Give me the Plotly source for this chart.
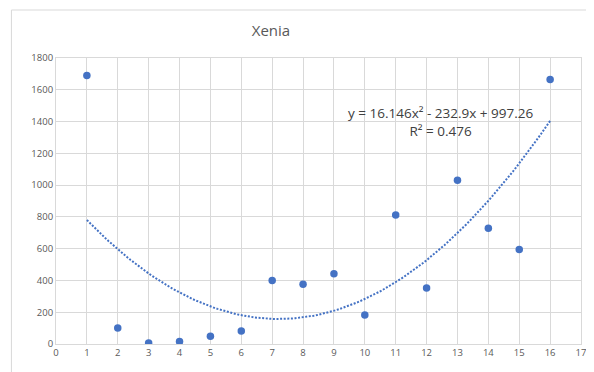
import plotly.graph_objects as go

x_vals = [1, 2, 3, 4, 5, 6, 7, 8, 9, 10, 11, 12, 13, 14, 15, 16]
y_vals = [1690, 100, 6, 15, 48, 82, 400, 376, 442, 182, 812, 352, 1030, 728, 594, 1665]
trend_coef = [16.146, -232.9, 997.26]  # a, b, c from the trendline label
r_squared = 0.476
title_text = "Xenia"

blue = "#4472C4"
fig = go.Figure()

n = 150
tx = [x_vals[0] + (x_vals[-1] - x_vals[0]) * i / (n - 1) for i in range(n)]
ty = [trend_coef[0] * t * t + trend_coef[1] * t + trend_coef[2] for t in tx]
fig.add_trace(go.Scatter(x=tx, y=ty, mode="lines",
                         line=dict(color=blue, width=2, dash="2px,1.6px"),
                         hoverinfo="skip", showlegend=False))
fig.add_trace(go.Scatter(x=x_vals, y=y_vals, mode="markers",
                         marker=dict(color=blue, size=7.5), showlegend=False))

eq = f"y = {trend_coef[0]}x² - {abs(trend_coef[1])}x + {trend_coef[2]}<br>R² = {r_squared}"
fig.add_annotation(x=12.45, y=1400, text=eq, showarrow=False, xref="x", yref="y",
                   font=dict(family="Open Sans, Liberation Sans, sans-serif", size=13.5, color="#404040"),
                   align="center")

fig.add_shape(type="rect", xref="paper", yref="paper",
              x0=-45/530, x1=1.05, y0=-0.15, y1=(336-2)/286,
              line=dict(color="#d9d9d9", width=1))

W, H = 586, 364
fig.update_layout(
    width=W, height=H,
    margin=dict(l=48, r=8, t=50, b=28),
    paper_bgcolor="white", plot_bgcolor="white",
    title=dict(text=title_text, x=263/W, xanchor="center", y=1-23/H, yanchor="middle",
               font=dict(family="Open Sans, Liberation Sans, sans-serif", size=15, color="#595959")),
    font=dict(family="Open Sans, Liberation Sans, sans-serif", size=9.5, color="#595959"),
)
fig.update_xaxes(range=[0, 17], dtick=1, tick0=0, showgrid=True, gridcolor="#d9d9d9",
                 gridwidth=1, zeroline=False, showline=True, linecolor="#d9d9d9",
                 mirror=True, ticks="", fixedrange=True)
fig.update_yaxes(range=[0, 1800], dtick=200, showgrid=True, gridcolor="#d9d9d9",
                 gridwidth=1, zeroline=False, showline=True, linecolor="#d9d9d9",
                 mirror=True, ticks="", fixedrange=True)

fig.write_html("out.html")
